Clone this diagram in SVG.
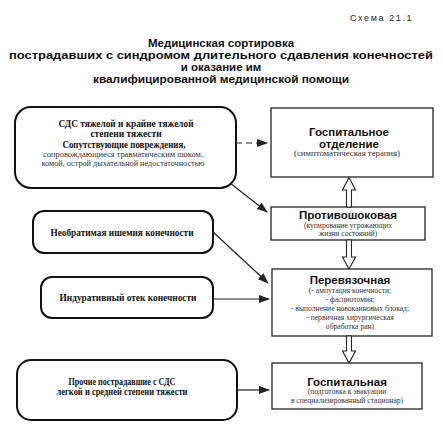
<svg xmlns="http://www.w3.org/2000/svg" width="443" height="428" viewBox="0 0 443 428">
<style>
.title{font-family:"Liberation Sans",Arial,sans-serif;font-weight:bold;font-size:11.5px;fill:#111;text-anchor:middle}
.cap{font-family:"Liberation Sans",Arial,sans-serif;font-size:9px;fill:#222;letter-spacing:1.6px}
.lbox{fill:#fff;stroke:#111;stroke-width:2}
.rbox{fill:#fff;stroke:#222;stroke-width:1.3}
.lt{font-family:"Liberation Serif","Times New Roman",serif;font-weight:bold;font-size:9.5px;fill:#111;text-anchor:middle}
.lbig{font-family:"Liberation Serif","Times New Roman",serif;font-weight:bold;font-size:11px;fill:#111;text-anchor:middle}
.small{font-family:"Liberation Serif","Times New Roman",serif;font-size:7.6px;fill:#333;text-anchor:middle}
.head{font-family:"Liberation Sans",Arial,sans-serif;font-weight:bold;font-size:11.5px;fill:#111;text-anchor:middle}
.conn{stroke:#222;stroke-width:1.2;fill:none}
.hollow{fill:#fff;stroke:#222;stroke-width:1.1}
</style>
<defs>
<marker id="ah" markerUnits="userSpaceOnUse" markerWidth="11" markerHeight="8" refX="10" refY="4" orient="auto">
<path d="M0,0 L11,4 L0,8 z" fill="#222"/>
</marker>
</defs>

<text class="cap" x="350" y="21">Схема 21.1</text>
<text class="title" x="221" y="47">Медицинская сортировка</text>
<text class="title" x="221" y="59" textLength="424" lengthAdjust="spacingAndGlyphs">пострадавших с синдромом длительного сдавления конечностей</text>
<text class="title" x="221" y="71">и оказание им</text>
<text class="title" x="221" y="83" textLength="256" lengthAdjust="spacingAndGlyphs">квалифицированной медицинской помощи</text>

<g id="n1">
<rect class="lbox" x="15" y="107" width="221" height="81" rx="16"/>
<text class="lt" x="126" y="127" textLength="135" lengthAdjust="spacingAndGlyphs">СДС тяжелой и крайне тяжелой</text>
<text class="lt" x="126" y="137">степени тяжести</text>
<text class="lbig" x="124" y="148" textLength="123" lengthAdjust="spacingAndGlyphs">Сопутствующие повреждения,</text>
<text class="small" x="123" y="157" textLength="160" lengthAdjust="spacingAndGlyphs">сопровождающиеся травматическим шоком,</text>
<text class="small" x="123" y="166" textLength="163" lengthAdjust="spacingAndGlyphs">комой, острой дыхательной недостаточностью</text>
</g>
<g id="n2">
<rect class="lbox" x="33" y="211" width="180" height="42" rx="11"/>
<text class="lt" x="122" y="236" textLength="143" lengthAdjust="spacingAndGlyphs">Необратимая ишемия конечности</text>
</g>
<g id="n3">
<rect class="lbox" x="41" y="277" width="172" height="41" rx="11"/>
<text class="lt" x="128" y="301" textLength="137" lengthAdjust="spacingAndGlyphs">Индуративный отек конечности</text>
</g>
<g id="n4">
<rect class="lbox" x="17" y="360" width="220" height="60" rx="14"/>
<text class="lt" x="122" y="385" textLength="107" lengthAdjust="spacingAndGlyphs">Прочие пострадавшие с СДС</text>
<text class="lt" x="122" y="395" textLength="131" lengthAdjust="spacingAndGlyphs">легкой и средней степени тяжести</text>
</g>

<g id="nA">
<rect class="rbox" x="271" y="108" width="162" height="69"/>
<text class="head" x="349" y="136">Госпитальное</text>
<text class="head" x="349" y="148">отделение</text>
<text class="small" x="347" y="156" textLength="106" lengthAdjust="spacingAndGlyphs">(симптоматическая терапия)</text>
</g>
<g id="nB">
<rect class="rbox" x="271" y="207" width="154" height="33"/>
<text class="head" x="348" y="219">Противошоковая</text>
<text class="small" x="348" y="228">(купирование угрожающих</text>
<text class="small" x="348" y="236">жизни состояний)</text>
</g>
<g id="nC">
<rect class="rbox" x="272" y="269" width="160" height="67"/>
<text class="head" x="350" y="284">Перевязочная</text>
<text class="small" x="350" y="293">(- ампутация конечности;</text>
<text class="small" x="350" y="302">- фасциотомия;</text>
<text class="small" x="350" y="311">- выполнение новокаиновых блокад;</text>
<text class="small" x="350" y="320">- первичная хирургическая</text>
<text class="small" x="350" y="329">обработка ран)</text>
</g>
<g id="nD">
<rect class="rbox" x="272" y="363" width="150" height="46"/>
<text class="head" x="347" y="386">Госпитальная</text>
<text class="small" x="347" y="394">(подготовка к эвакуации</text>
<text class="small" x="347" y="403">в специализированный стационар)</text>
</g>

<g id="connectors">
<line class="conn" x1="236" y1="143" x2="267" y2="143" stroke-dasharray="6,4" marker-end="url(#ah)"/>
<line class="conn" x1="230" y1="183" x2="267" y2="212" marker-end="url(#ah)"/>
<line class="conn" x1="213" y1="232" x2="268" y2="283" marker-end="url(#ah)"/>
<line class="conn" x1="213" y1="299" x2="269" y2="299" marker-end="url(#ah)"/>
<line class="conn" x1="237" y1="390" x2="269" y2="390" marker-end="url(#ah)"/>
<polygon class="hollow" points="346.5,207 346.5,190 342.5,190 349,177.5 355.5,190 351.5,190 351.5,207"/>
<polygon class="hollow" points="346.5,240 346.5,257 342.5,257 349,269 355.5,257 351.5,257 351.5,240"/>
<polygon class="hollow" points="346.5,336 346.5,351 342.5,351 349,363 355.5,351 351.5,351 351.5,336"/>
</g>
</svg>
